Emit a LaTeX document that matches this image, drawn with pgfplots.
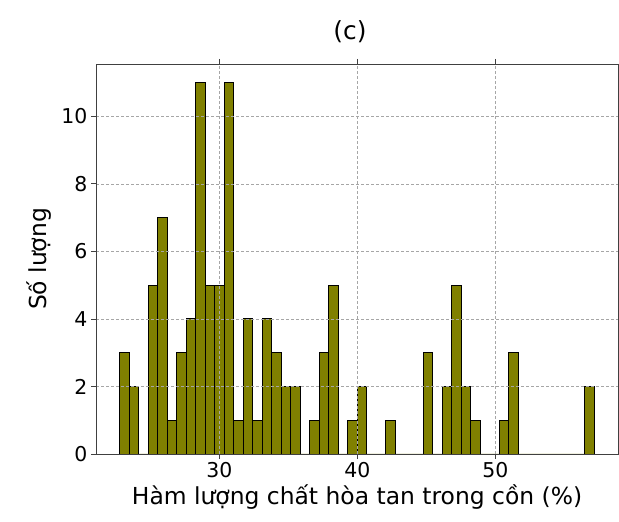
\documentclass[border=0pt]{standalone}
\usepackage{pgfplots}
\pgfplotsset{compat=1.18}
\usepackage{fontspec}
\setmainfont{DejaVu Sans}
\definecolor{barolive}{RGB}{128,128,0}
\begin{document}
\begin{tikzpicture}[x=1bp,y=1bp]
\useasboundingbox (0,0) rectangle (619,522);
\begin{axis}[
 at={(96bp,68bp)}, anchor=south west,
 width=522bp, height=390bp, scale only axis,
 xmin=21.05, xmax=58.89, ymin=0, ymax=11.55,
 xtick={30,40,50}, ytick={0,2,4,6,8,10},
 tick align=outside, major tick length=5bp,
 tick style={black!75, line width=0.8bp},
 axis line style={black!75, line width=0.8bp},
 grid=major, major grid style={dash pattern=on 3bp off 2bp, gray!70, line width=0.6bp},
 axis on top,
 ticklabel style={font=\fontsize{20.5}{24}\selectfont},
 /pgf/number format/assume math mode=true,
 xlabel={Hàm lượng chất hòa tan trong cồn (\%)},
 ylabel={Số lượng},
 label style={font=\fontsize{23.5}{28}\selectfont},
 ylabel style={yshift=3bp},
 title={(c)},
 title style={font=\fontsize{25}{30}\selectfont, xshift=-7bp, yshift=12bp},
]
\addplot[ybar interval, fill=barolive, draw=black, line width=0.9bp] coordinates {
(22.770,3) (23.458,2) (24.146,0) (24.834,5) (25.522,7)
(26.210,1) (26.898,3) (27.586,4) (28.274,11) (28.962,5)
(29.650,5) (30.338,11) (31.026,1) (31.714,4) (32.402,1)
(33.090,4) (33.778,3) (34.466,2) (35.154,2) (35.842,0)
(36.530,1) (37.218,3) (37.906,5) (38.594,0) (39.282,1)
(39.970,2) (40.658,0) (41.346,0) (42.034,1) (42.722,0)
(43.410,0) (44.098,0) (44.786,3) (45.474,0) (46.162,2)
(46.850,5) (47.538,2) (48.226,1) (48.914,0) (49.602,0)
(50.290,1) (50.978,3) (51.666,0) (52.354,0) (53.042,0)
(53.730,0) (54.418,0) (55.106,0) (55.794,0) (56.482,2)
(57.170,2)
};
\end{axis}
\end{tikzpicture}
\end{document}
